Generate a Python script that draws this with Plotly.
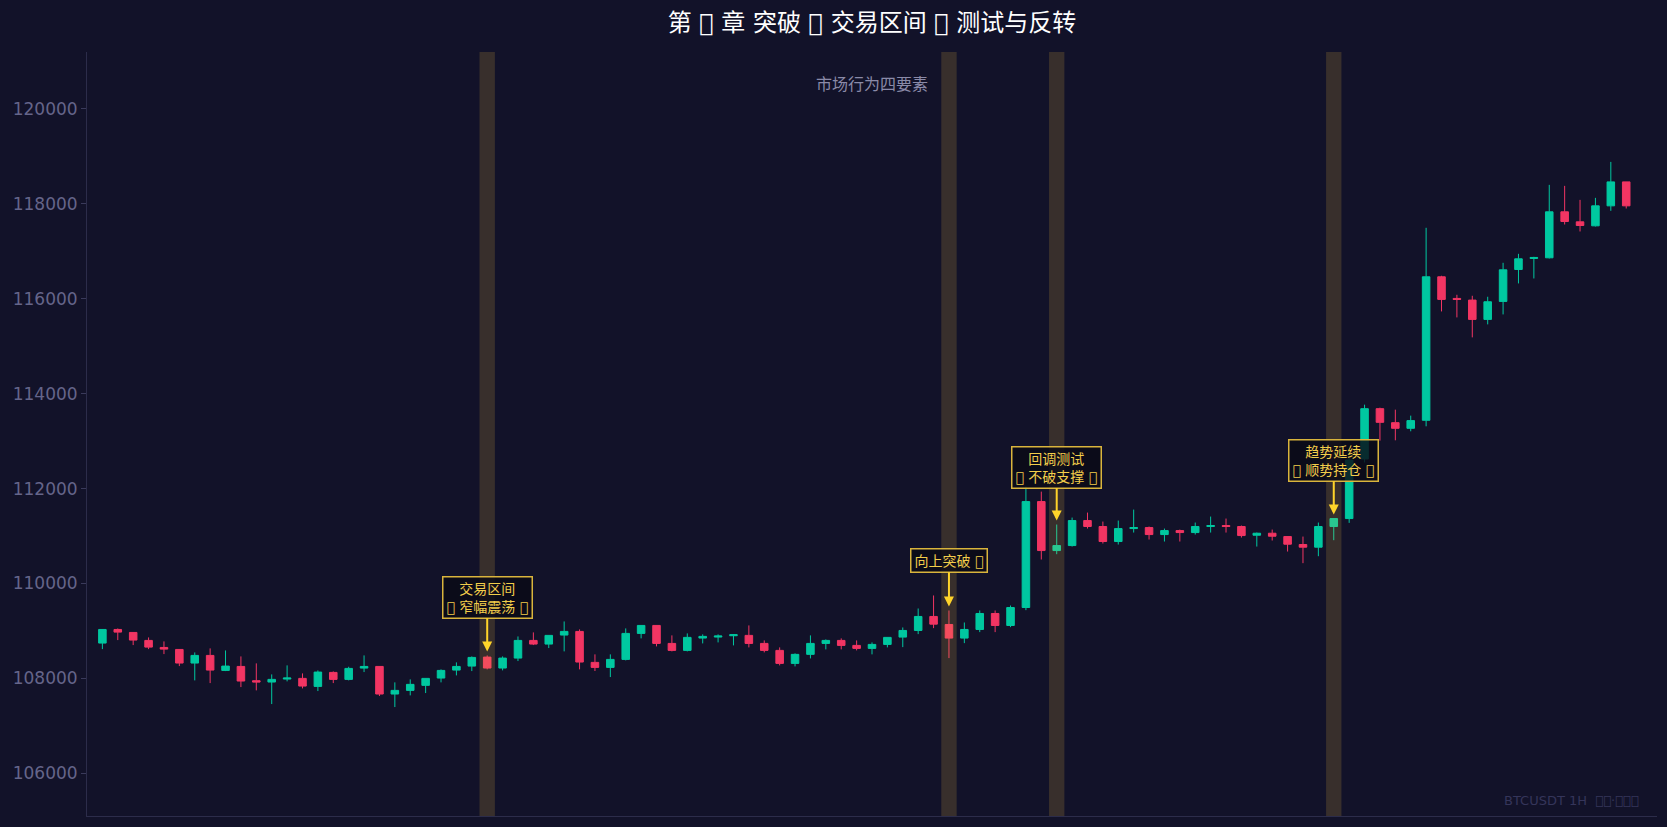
import plotly.graph_objects as go

# ---- data ----
idx = list(range(100))
opens = [108744, 109031, 108968, 108800, 108652, 108610, 108323, 108484, 108168, 108252,
         107951, 107923, 107986, 108000, 107831, 108126, 107979, 108217, 108252, 107670,
         107747, 107853, 108007, 108175, 108259, 108449, 108218, 108428, 108800, 108723,
         108913, 108990, 108337, 108232, 108400, 108948, 109116, 108737, 108590, 108850,
         108871, 108899, 108906, 108737, 108590, 108316, 108506, 108737, 108800, 108695,
         108632, 108716, 108870, 109010, 109305, 109136, 108849, 109031, 109368, 109115,
         109494, 111726, 110694, 110799, 111326, 111200, 110884, 111157, 111178, 111031,
         111115, 111073, 111200, 111221, 111200, 111017, 111059, 110989, 110821, 110765,
         111200, 111368, 112624, 113684, 113389, 113270, 113439, 116463, 116007, 115972,
         115565, 115944, 116617, 116849, 116863, 117832, 117621, 117537, 117958, 118463]
highs = [109040, 109052, 108968, 108863, 108779, 108610, 108547, 108632, 108589, 108463,
         108316, 108084, 108274, 108105, 108168, 108147, 108245, 108484, 108252, 107916,
         107979, 108000, 108189, 108337, 108463, 108484, 108463, 108884, 108969, 108906,
         109200, 109032, 108506, 108506, 109053, 109116, 109116, 108906, 108948, 108927,
         108927, 108934, 109116, 108800, 108653, 108527, 108906, 108821, 108843, 108800,
         108758, 108864, 109073, 109473, 109747, 109431, 109178, 109431, 109431, 109536,
         112042, 111936, 111242, 111389, 111494, 111305, 111326, 111557, 111200, 111157,
         111136, 111284, 111410, 111368, 111221, 111073, 111136, 110989, 110989, 111284,
         111368, 112650, 113768, 113705, 113663, 113537, 117495, 116484, 116084, 116063,
         116042, 116758, 116947, 116884, 118400, 118379, 118084, 118126, 118884, 118463]
lows = [108617, 108807, 108702, 108617, 108512, 108259, 107958, 107901, 108154, 107817,
        107747, 107459, 107937, 107789, 107733, 107901, 107958, 108133, 107628, 107396,
        107642, 107691, 107916, 108063, 108154, 108190, 108169, 108365, 108702, 108639,
        108569, 108190, 108155, 108028, 108379, 108843, 108674, 108569, 108569, 108737,
        108758, 108695, 108653, 108548, 108274, 108253, 108421, 108611, 108611, 108590,
        108506, 108653, 108659, 108933, 109059, 108428, 108743, 108975, 108975, 109080,
        109438, 110505, 110617, 110778, 111157, 110842, 110821, 111073, 110926, 110884,
        110884, 111031, 111073, 111073, 110968, 110778, 110905, 110673, 110428, 110575,
        110912, 111277, 112550, 113010, 113017, 113207, 113312, 115733, 115607, 115186,
        115460, 115670, 116323, 116428, 116849, 117565, 117418, 117523, 117853, 117902]
closes = [109031, 108975, 108807, 108659, 108617, 108323, 108484, 108175, 108259, 107944,
          107923, 107979, 108007, 107838, 108133, 107979, 108210, 108252, 107670, 107747,
          107874, 108000, 108168, 108252, 108442, 108218, 108428, 108800, 108723, 108906,
          108990, 108344, 108232, 108400, 108948, 109116, 108737, 108590, 108864, 108885,
          108892, 108920, 108737, 108590, 108316, 108506, 108737, 108800, 108695, 108632,
          108716, 108864, 109010, 109305, 109143, 108849, 109031, 109368, 109115, 109494,
          111726, 110694, 110799, 111326, 111200, 110884, 111157, 111178, 111031, 111115,
          111073, 111200, 111221, 111200, 111010, 111059, 110996, 110828, 110765, 111200,
          111368, 112600, 113684, 113396, 113270, 113432, 116463, 115986, 115986, 115565,
          115937, 116610, 116842, 116870, 117832, 117628, 117544, 117958, 118463, 117958]

# Glyphs the reference shows as empty "missing glyph" boxes
NG = "\ue000"

highlight_idx = [25, 55, 62, 80]
highlight_text = ["交易区间<br>" + NG + " 窄幅震荡 " + NG,
                  "向上突破 " + NG,
                  "回调测试<br>" + NG + " 不破支撑 " + NG,
                  "趋势延续<br>" + NG + " 顺势持仓 " + NG]
highlight_ay = [-58, -50, -57, -58]

title_text = "第 " + NG + " 章 突破 " + NG + " 交易区间 " + NG + " 测试与反转"
subtitle_text = "市场行为四要素"
watermark_text = "BTCUSDT 1H  " + NG + NG + "·" + NG + NG + NG
y_ticks = [106000, 108000, 110000, 112000, 114000, 116000, 118000, 120000]

# ---- style ----
BG = "#121229"
GREEN = "#00C8A0"
RED = "#F23563"
AXIS = "#2c2c4a"
TICKC = "#65658a"
FONT = "DejaVu Sans, Noto Sans CJK SC, sans-serif"

fig = go.Figure()
fig.add_trace(go.Candlestick(
    x=idx, open=opens, high=highs, low=lows, close=closes,
    increasing=dict(line=dict(color=GREEN, width=1), fillcolor=GREEN),
    decreasing=dict(line=dict(color=RED, width=1), fillcolor=RED),
    whiskerwidth=0, showlegend=False, hoverinfo="skip",
))

for i, txt, ay in zip(highlight_idx, highlight_text, highlight_ay):
    fig.add_vrect(x0=i - 0.5, x1=i + 0.5, fillcolor="rgba(255,200,60,0.16)",
                  line_width=0, layer="above")
    fig.add_annotation(
        x=i, y=highs[i], xref="x", yref="y", text=txt,
        showarrow=True, arrowhead=2, arrowsize=1, arrowwidth=2,
        arrowcolor="#FFD42A", ax=0, ay=ay, standoff=4,
        font=dict(size=14, color="#F2CD4B", family=FONT),
        bgcolor="rgba(10,10,22,0.82)", bordercolor="#D9B43C",
        borderwidth=1.5, borderpad=3, align="center",
    )

fig.add_annotation(x=0.5, y=0.958, xref="paper", yref="paper", text=subtitle_text,
                   showarrow=False, font=dict(size=16, color="#8a8aa8", family=FONT),
                   xanchor="center", yanchor="middle")
fig.add_annotation(x=0.99, y=0.008, xref="paper", yref="paper", text=watermark_text,
                   showarrow=False, font=dict(size=13, color="#35355a", family=FONT),
                   xanchor="right", yanchor="bottom")

fig.update_layout(
    width=1667, height=827,
    paper_bgcolor=BG, plot_bgcolor=BG,
    margin=dict(l=87, r=10, t=52, b=11),
    font=dict(family=FONT, color=TICKC),
    title=dict(text=title_text, x=0.5, xref="paper", y=1 - 23 / 827, yref="container",
               xanchor="center", yanchor="middle",
               font=dict(size=24, color="#ffffff", family=FONT)),
    xaxis=dict(range=[-1, 101], showticklabels=False, showgrid=False, zeroline=False,
               showline=True, linecolor=AXIS, linewidth=1, ticks="",
               rangeslider=dict(visible=False)),
    yaxis=dict(range=[105100, 121200], tickvals=y_ticks, tickformat="d",
               showgrid=False, zeroline=False,
               showline=True, linecolor=AXIS, linewidth=1, ticks="outside", ticklen=5,
               tickcolor="#3a3a5a", tickfont=dict(size=17, color=TICKC, family=FONT)),
)

fig.write_html("out.html", config={"displayModeBar": False},
               post_script="document.body.style.margin='0';")
